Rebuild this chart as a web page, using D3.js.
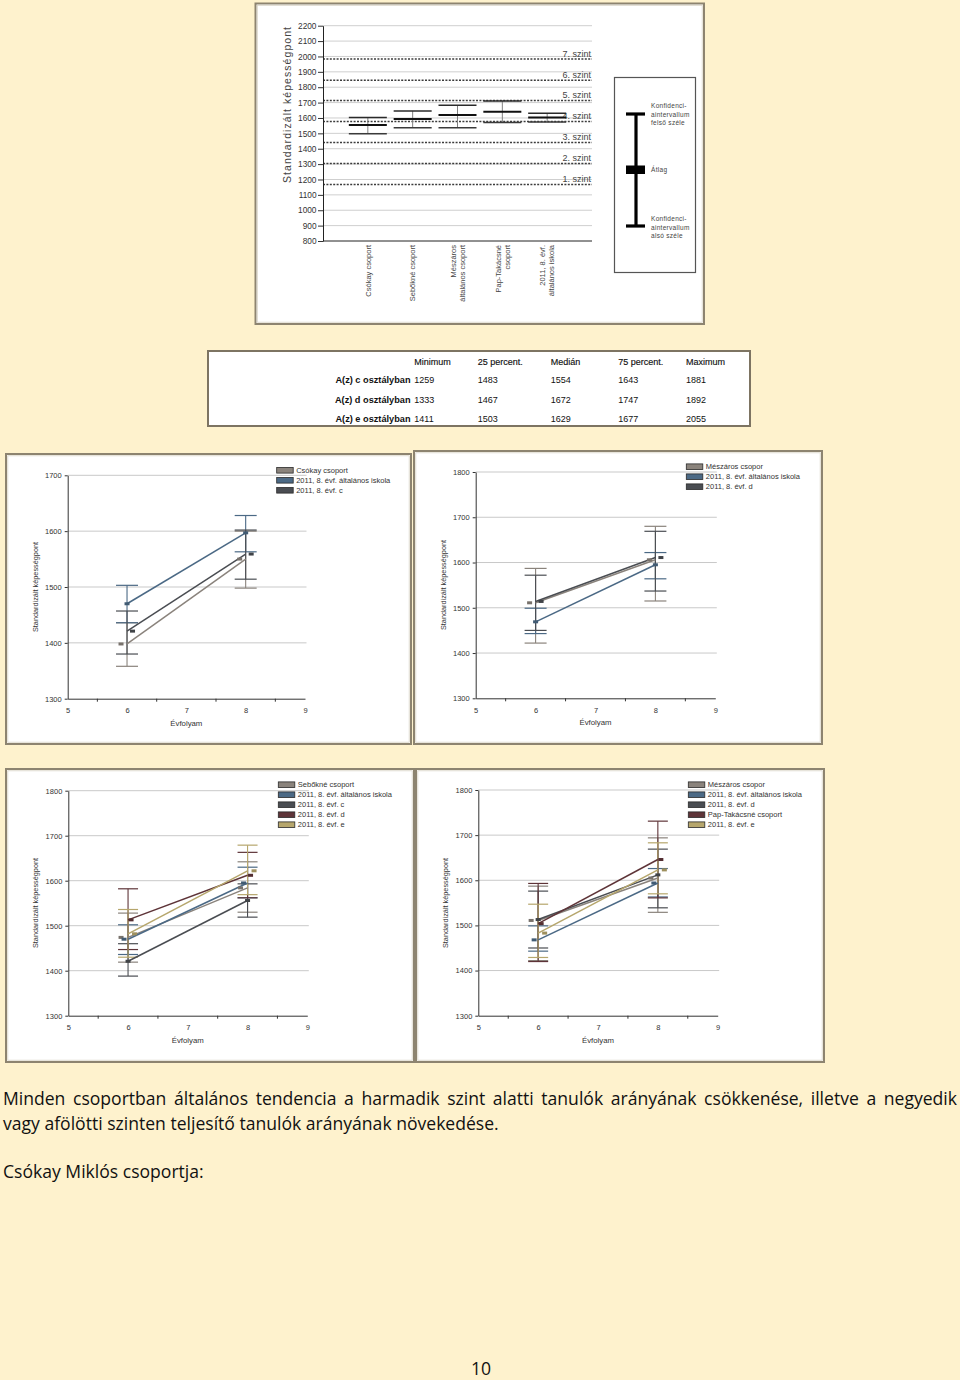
<!DOCTYPE html>
<html><head><meta charset="utf-8">
<script src="https://cdn.jsdelivr.net/npm/d3@7"></script>
<style>
html,body{margin:0;padding:0;background:#FEF2CD;}
svg{display:block;}
</style></head>
<body>
<svg id="page" width="960" height="1380"></svg>
<script>
// ---------------- DATA ----------------
// Top chart: confidence intervals by group
const groupLabels = [["Csókay csoport"],["Sebőkné csoport"],["Mészáros","általános csoport"],["Pap-Takácsné","csoport"],["2011, 8. évf.","általános iskola"]];
const groupLow  = [1497, 1536, 1536, 1570, 1573];
const groupMean = [1555, 1594, 1620, 1640, 1603];
const groupHigh = [1603, 1646, 1683, 1711, 1631];
const levelNames  = ["1. szint","2. szint","3. szint","4. szint","5. szint","6. szint","7. szint"];
const levelValues = [1168, 1304, 1440, 1577, 1713, 1846, 1984];
const ciLegendTop = ["Konfidenci-","aintervallum","felső széle"];
const ciLegendMid = "Átlag";
const ciLegendBottom = ["Konfidenci-","aintervallum","alsó széle"];
const topYTitle = "Standardizált képességpont";

// Table
const tableCols = ["Minimum","25 percent.","Medián","75 percent.","Maximum"];
const tableRowNames = ["A(z) c osztályban","A(z) d osztályban","A(z) e osztályban"];
const classC = [1259, 1483, 1554, 1643, 1881];
const classD = [1333, 1467, 1672, 1747, 1892];
const classE = [1411, 1503, 1629, 1677, 2055];

// Line charts (grades 6 and 8)
const grades = [6, 8];
const xTicks = [5, 6, 7, 8, 9];

const c1Names = ["Csókay csoport","2011, 8. évf. általános iskola","2011, 8. évf. c"];
const c1Mean = [[1398,1550],[1470,1597],[1421,1559]];
const c1Low  = [[1358,1498],[1436,1563],[1380,1514]];
const c1High = [[1436,1600],[1503,1628],[1457,1602]];

const c2Names = ["Mészáros csopor","2011, 8. évf. általános iskola","2011, 8. évf. d"];
const c2Mean = [[1511,1606],[1469,1595],[1514,1611]];
const c2Low  = [[1422,1515],[1443,1564],[1450,1537]];
const c2High = [[1587,1680],[1499,1622],[1572,1669]];

const c3Names = ["Sebőkné csoport","2011, 8. évf. általános iskola","2011, 8. évf. c","2011, 8. évf. d","2011, 8. évf. e"];
const c3Mean = [[1474,1584],[1470,1595],[1421,1556],[1513,1612],[1482,1622]];
const c3Low  = [[1419,1530],[1436,1562],[1388,1519],[1447,1562],[1430,1569]];
const c3High = [[1528,1642],[1502,1630],[1460,1593],[1582,1663],[1536,1679]];

const c4Names = ["Mészáros csopor","2011, 8. évf. általános iskola","2011, 8. évf. d","Pap-Takácsné csoport","2011, 8. évf. e"];
const c4Mean = [[1511,1605],[1468,1594],[1513,1612],[1504,1646],[1483,1623]];
const c4Low  = [[1422,1529],[1443,1563],[1450,1539],[1420,1561],[1429,1570]];
const c4High = [[1587,1694],[1499,1626],[1576,1669],[1593,1731],[1547,1683]];

const lineYTitle = "Standardizált képességpont";
const lineXTitle = "Évfolyam";

const para1 = "Minden csoportban általános tendencia a harmadik szint alatti tanulók arányának csökkenése, illetve a negyedik";
const para2 = "vagy afölötti szinten teljesítő tanulók arányának növekedése.";
const para3 = "Csókay Miklós csoportja:";
const pageNo = "10";

// ---------------- DRAWING ----------------
const FONT = "'Liberation Sans', Arial, Helvetica, sans-serif";
const svg = d3.select("#page");

function panel(x0, y0, x1, y1){
  svg.append("rect").attr("x", x0).attr("y", y0).attr("width", x1-x0).attr("height", y1-y0)
    .attr("fill", "#fff").attr("stroke", "#8d8470").attr("stroke-width", 2);
  svg.append("rect").attr("x", x0+1.8).attr("y", y0+1.8).attr("width", x1-x0-3.6).attr("height", y1-y0-3.6)
    .attr("fill", "none").attr("stroke", "#d8d2c4").attr("stroke-width", 0.8);
}

// ===== Top chart =====
panel(255.5, 3.5, 704, 324);
{
  const g = svg.append("g");
  const y = d3.scaleLinear().domain([800, 2200]).range([241, 25.7]);
  const x = d3.scalePoint().domain(d3.range(groupLabels.length)).range([323, 592]).padding(1);
  const ticks = y.ticks(14);
  g.selectAll("line.grid").data(ticks.filter(t => t > 800)).join("line")
    .attr("x1", 323).attr("x2", 592).attr("y1", d => y(d)).attr("y2", d => y(d))
    .attr("stroke", "#cfcfcf").attr("stroke-width", 1);
  // level lines
  g.selectAll("line.lvl").data(levelValues).join("line")
    .attr("x1", 323).attr("x2", 592).attr("y1", d => y(d)).attr("y2", d => y(d))
    .attr("stroke", "#3c3c3c").attr("stroke-width", 1.5).attr("stroke-dasharray", "2,1.4");
  g.selectAll("text.lvl").data(levelValues).join("text")
    .attr("x", 591).attr("y", d => y(d) - 2.2).attr("text-anchor", "end")
    .attr("font-family", FONT).attr("font-size", 9).attr("fill", "#444")
    .text((d, i) => levelNames[i]);
  // axes
  const ay = g.append("g").attr("transform", "translate(323,0)")
    .call(d3.axisLeft(y).tickValues(ticks).tickSize(5).tickSizeOuter(0).tickPadding(1.5).tickFormat(d3.format("d")));
  ay.selectAll("text").attr("font-family", FONT).attr("font-size", 8.3).attr("fill", "#333");
  ay.selectAll("line").attr("stroke", "#333");
  ay.select(".domain").attr("stroke", "#222");
  const ax = g.append("g").attr("transform", "translate(0,241)")
    .call(d3.axisBottom(x).tickSize(0).tickSizeOuter(0).tickFormat(""));
  ax.select(".domain").attr("stroke", "#222").attr("d", "M323,0H592");
  // y title
  g.append("text").attr("transform", "translate(291,105) rotate(-90)")
    .attr("text-anchor", "middle").attr("font-family", FONT).attr("font-size", 10.5).attr("fill", "#444")
    .attr("textLength", 156).attr("lengthAdjust", "spacing").text(topYTitle);
  // category labels
  groupLabels.forEach((lines, i) => {
    const cx = x(i);
    lines.forEach((t, j) => {
      const bx = cx + 2.7 + (j - (lines.length - 1) / 2) * 9;
      g.append("text").attr("transform", `translate(${bx},245) rotate(-90)`)
        .attr("text-anchor", "end").attr("font-family", FONT).attr("font-size", 7.5).attr("fill", "#444")
        .text(t);
    });
  });
  // intervals
  const half = 19;
  groupLow.forEach((lo, i) => {
    const cx = x(i);
    g.append("line").attr("x1", cx).attr("x2", cx).attr("y1", y(lo)).attr("y2", y(groupHigh[i]))
      .attr("stroke", "#808080").attr("stroke-width", 1);
    [[lo, "#3a3a3a", 1.5], [groupHigh[i], "#2a2a2a", 1.5], [groupMean[i], "#111", 2]].forEach(([v, c, w]) => {
      g.append("line").attr("x1", cx - half).attr("x2", cx + half).attr("y1", y(v)).attr("y2", y(v))
        .attr("stroke", c).attr("stroke-width", w);
    });
  });
  // legend box
  const lg = svg.append("g");
  lg.append("rect").attr("x", 614.5).attr("y", 77.5).attr("width", 81).attr("height", 195)
    .attr("fill", "#fff").attr("stroke", "#555").attr("stroke-width", 1.2);
  lg.append("line").attr("x1", 636).attr("x2", 636).attr("y1", 114).attr("y2", 226).attr("stroke", "#000").attr("stroke-width", 3.2);
  lg.append("line").attr("x1", 626).attr("x2", 645).attr("y1", 114).attr("y2", 114).attr("stroke", "#000").attr("stroke-width", 3.2);
  lg.append("line").attr("x1", 626).attr("x2", 645).attr("y1", 226).attr("y2", 226).attr("stroke", "#000").attr("stroke-width", 3.2);
  lg.append("rect").attr("x", 626).attr("y", 165.5).attr("width", 19).attr("height", 8.5).attr("fill", "#000");
  const legTxt = (arr, y0) => arr.forEach((t, i) => lg.append("text").attr("x", 651).attr("y", y0 + i * 8.2)
      .attr("font-family", FONT).attr("font-size", 6.5).attr("fill", "#444").attr("letter-spacing", 0.3).text(t));
  legTxt(ciLegendTop, 108.4);
  legTxt([ciLegendMid], 172.3);
  legTxt(ciLegendBottom, 221.3);
}

// ===== Table =====
{
  const g = svg.append("g");
  g.append("rect").attr("x", 208).attr("y", 351).attr("width", 542).attr("height", 75)
    .attr("fill", "#fff").attr("stroke", "#7d7462").attr("stroke-width", 2);
  const colX = d3.scaleOrdinal().domain(tableCols).range([414.3, 477.7, 550.7, 618.3, 686]);
  g.selectAll("text.h").data(tableCols).join("text")
    .attr("x", d => colX(d)).attr("y", 365).attr("font-family", FONT).attr("font-size", 9).attr("fill", "#111")
    .attr("stroke", "#111").attr("stroke-width", 0.15).text(d => d);
  const rowY = [383.3, 403, 422.2];
  const rows = [classC, classD, classE];
  rows.forEach((vals, r) => {
    g.append("text").attr("x", 410.5).attr("y", rowY[r]).attr("text-anchor", "end")
      .attr("font-family", FONT).attr("font-size", 9.2).attr("font-weight", "bold").attr("fill", "#111")
      .text(tableRowNames[r]);
    g.selectAll(null).data(vals).join("text")
      .attr("x", (d, i) => colX(tableCols[i])).attr("y", rowY[r])
      .attr("font-family", FONT).attr("font-size", 9).attr("fill", "#111").text(d => d);
  });
}

// ===== Line charts =====
const palette = ["#8a837c", "#4b6985", "#4a4d52", "#5e3438", "#b6a66c"];

function lineChart(cfg, names, means, lows, highs){
  panel(...cfg.frame);
  const g = svg.append("g");
  const x = d3.scaleLinear().domain([5, 9]).range(cfg.xr);
  const y = d3.scaleLinear().domain([1300, cfg.ymax]).range(cfg.yr);
  const yTicks = d3.range(1300, cfg.ymax + 1, 100);
  g.selectAll("line.grid").data(yTicks.slice(1)).join("line")
    .attr("x1", cfg.xr[0]).attr("x2", cfg.xr[1] + 1.5).attr("y1", d => y(d)).attr("y2", d => y(d))
    .attr("stroke", "#c9c9c9").attr("stroke-width", 1);
  const ay = g.append("g").attr("transform", `translate(${cfg.xr[0]},0)`)
    .call(d3.axisLeft(y).tickValues(yTicks).tickSize(3).tickSizeOuter(0).tickPadding(3).tickFormat(d3.format("d")));
  ay.selectAll("text").attr("font-family", FONT).attr("font-size", 7.5).attr("fill", "#333");
  ay.selectAll("line").attr("stroke", "#333");
  ay.select(".domain").attr("stroke", "#333");
  const ax = g.append("g").attr("transform", `translate(0,${cfg.yr[0]})`)
    .call(d3.axisBottom(x).tickValues(xTicks).tickSize(0).tickSizeOuter(0).tickPadding(9).tickFormat(d3.format("d")));
  ax.selectAll("text").attr("font-family", FONT).attr("font-size", 7.5).attr("fill", "#333");
  ax.select(".domain").attr("stroke", "#333");
  g.selectAll("line.mt").data([5.5, 6.5, 7.5, 8.5]).join("line")
    .attr("x1", d => x(d)).attr("x2", d => x(d)).attr("y1", cfg.yr[0]).attr("y2", cfg.yr[0] + 3)
    .attr("stroke", "#333");
  g.append("text").attr("x", (cfg.xr[0] + cfg.xr[1]) / 2).attr("y", cfg.yr[0] + 27)
    .attr("text-anchor", "middle").attr("font-family", FONT).attr("font-size", 7.8).attr("fill", "#333").text(lineXTitle);
  g.append("text").attr("transform", `translate(${cfg.titleX},${cfg.titleY}) rotate(-90)`)
    .attr("text-anchor", "middle").attr("dy", "0.35em").attr("font-family", FONT).attr("font-size", 7.3)
    .attr("fill", "#333").text(lineYTitle);

  const n = names.length;
  const offs = n === 3 ? [-6, 0, 5.5] : [-7, -4, 0, 3, 6.5];
  const half = cfg.capW / 2;
  // error bars
  names.forEach((nm, s) => {
    grades.forEach((gr, k) => {
      const cx = x(gr);
      g.append("line").attr("x1", cx).attr("x2", cx).attr("y1", y(lows[s][k])).attr("y2", y(highs[s][k]))
        .attr("stroke", palette[s]).attr("stroke-width", 1.1);
      [lows[s][k], highs[s][k]].forEach(v => g.append("line")
        .attr("x1", cx - half).attr("x2", cx + half).attr("y1", y(v)).attr("y2", y(v))
        .attr("stroke", palette[s]).attr("stroke-width", 1.2));
    });
  });
  // lines
  const line = d3.line().x((d, k) => x(grades[k])).y(d => y(d));
  names.forEach((nm, s) => {
    g.append("path").attr("d", line(means[s])).attr("fill", "none")
      .attr("stroke", palette[s]).attr("stroke-width", 1.5);
  });
  // markers
  names.forEach((nm, s) => {
    grades.forEach((gr, k) => {
      g.append("rect").attr("x", x(gr) + offs[s] - 2.5).attr("y", y(means[s][k]) - 1.5)
        .attr("width", 5).attr("height", 3).attr("fill", d3.color(palette[s]).darker(0.4));
    });
  });
  // legend
  names.forEach((nm, s) => {
    const cy = cfg.legendY + s * 10;
    g.append("rect").attr("x", cfg.legendX).attr("y", cy - 2.8).attr("width", 16.5).attr("height", 5.6)
      .attr("fill", palette[s]).attr("stroke", "#2a2a2a").attr("stroke-width", 0.8);
    g.append("text").attr("x", cfg.legendX + 19.5).attr("y", cy + 2.6)
      .attr("font-family", FONT).attr("font-size", 7.5).attr("fill", "#333").text(nm);
  });
}

lineChart({frame:[6,454,411,744], xr:[67.7,305], yr:[698.7,475.3], ymax:1700, legendX:276.7, legendY:470.3, titleX:35, titleY:587, capW:22},
  c1Names, c1Mean, c1Low, c1High);
lineChart({frame:[414,451,822,744], xr:[475.7,715.3], yr:[698.3,472], ymax:1800, legendX:686.3, legendY:466.7, titleX:443.7, titleY:585, capW:22},
  c2Names, c2Mean, c2Low, c2High);
lineChart({frame:[6,769,414,1062], xr:[68.3,307.3], yr:[1015.7,790.7], ymax:1800, legendX:278.3, legendY:784.7, titleX:35.7, titleY:903, capW:20},
  c3Names, c3Mean, c3Low, c3High);
lineChart({frame:[416,769,824,1062], xr:[478.3,717.7], yr:[1015.7,790], ymax:1800, legendX:688.3, legendY:784.7, titleX:445.7, titleY:903, capW:20},
  c4Names, c4Mean, c4Low, c4High);

// ===== Paragraph text =====
{
  const PF = "'Open Sans', 'Noto Sans', sans-serif";
  const g = svg.append("g").attr("font-family", PF).attr("fill", "#111");
  const probe = g.append("text").attr("font-size", 16).text(para2);
  const w = probe.node().getComputedTextLength();
  const fs = 16 * 496 / w;
  probe.remove();
  // justified first line
  const words = para1.split(" ");
  const widths = words.map(wd => {
    const t = g.append("text").attr("font-size", fs).text(wd);
    const l = t.node().getComputedTextLength(); t.remove(); return l;
  });
  const total = d3.sum(widths);
  const gap = (957 - 3 - total) / (words.length - 1);
  let cx = 3;
  words.forEach((wd, i) => {
    g.append("text").attr("x", cx).attr("y", 1105).attr("font-size", fs).text(wd);
    cx += widths[i] + gap;
  });
  g.append("text").attr("x", 3).attr("y", 1130).attr("font-size", fs).text(para2);
  g.append("text").attr("x", 3).attr("y", 1178).attr("font-size", fs).text(para3);
  g.append("text").attr("x", 481).attr("y", 1375).attr("text-anchor", "middle").attr("font-size", fs).text(pageNo);
}
</script>
</body></html>
